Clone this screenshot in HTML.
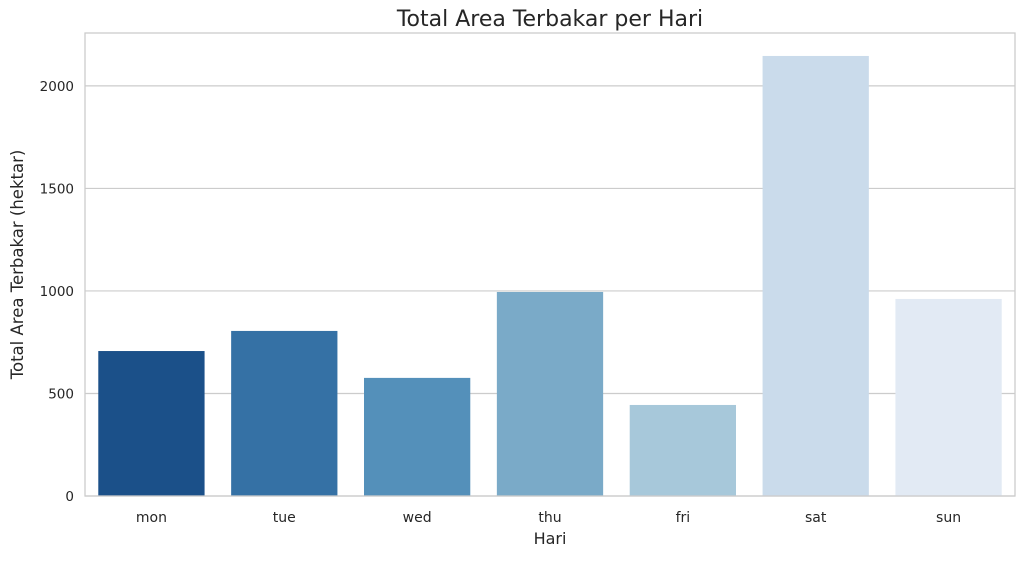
<!DOCTYPE html>
<html><head><meta charset="utf-8"><style>
body{margin:0;background:#fff;font-family:"DejaVu Sans","Liberation Sans",sans-serif;}
</style></head><body>
<svg id="chart" width="1025" height="558" xmlns="http://www.w3.org/2000/svg" font-family="DejaVu Sans, Liberation Sans, sans-serif"></svg>
<script>
const categories=["mon","tue","wed","thu","fri","sat","sun"];
const values=[707,805,576,995,444,2146,961];
const yTicks=[0,500,1000,1500,2000];
const colors=["#1b5089","#3571a5","#5490ba","#7aaac8","#a7c8da","#cadbeb","#e2eaf4"];
const L=85,R=1015,T=33,B=496,yMax=2258;
const svg=document.getElementById('chart');
const NS="http://www.w3.org/2000/svg";
function y(v){return B-(v/yMax)*(B-T);}
const step=(R-L)/categories.length;
function x(i){return L+step*i+step/2;}
function mk(t,a,txt){const e=document.createElementNS(NS,t);for(const k in a)e.setAttribute(k,a[k]);if(txt!==undefined)e.textContent=txt;svg.appendChild(e);return e;}
yTicks.forEach(v=>{
 const g=mk('line',{x1:L,x2:R,y1:y(v),y2:y(v),stroke:'#cccccc','stroke-width':1.2});
 
 
 const t=mk('text',{x:L-11,y:y(v)+5,'text-anchor':'end','font-size':13.5,fill:'#262626'},String(v));
 
 
});
categories.forEach((c,i)=>{
 const w=step*0.8;
 const r=mk('rect',{x:x(i)-w/2,y:y(values[i]),width:w,height:B-y(values[i]),fill:colors[i]});
 
 
 const t=mk('text',{x:x(i),y:B+26,'text-anchor':'middle','font-size':14,fill:'#262626'},c);
 
 
});
const f=mk('rect',{x:L,y:T,width:R-L,height:B-T,fill:'none',stroke:'#cccccc','stroke-width':1.3});


const tt=mk('text',{x:(L+R)/2,y:26,'text-anchor':'middle','font-size':22,fill:'#262626'},'Total Area Terbakar per Hari');


const xt=mk('text',{x:(L+R)/2,y:544,'text-anchor':'middle','font-size':16,fill:'#262626'},'Hari');


const yt=mk('text',{x:0,y:0,'text-anchor':'middle','font-size':16.5,fill:'#262626',transform:`translate(23,${(T+B)/2}) rotate(-90)`},'Total Area Terbakar (hektar)');


</script>
</body></html>
